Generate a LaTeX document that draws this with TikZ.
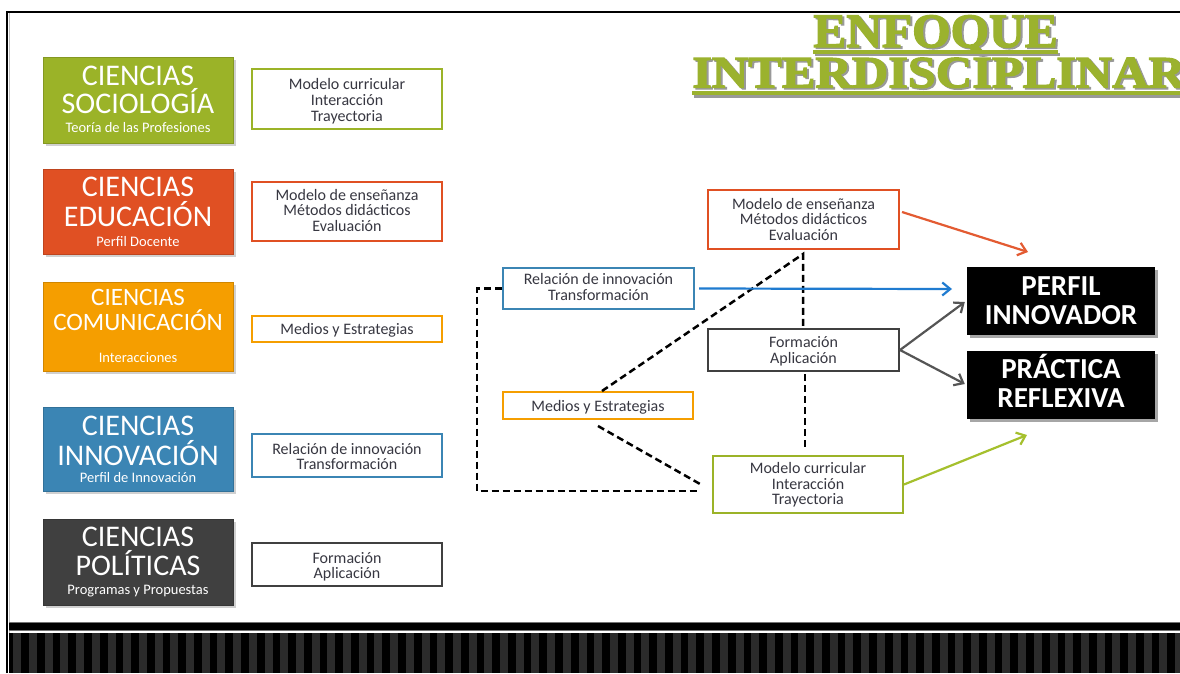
\documentclass[tikz,border=0pt]{standalone}
\usepackage{fontspec}
\setmainfont{Carlito}
\newfontfamily\titlefont[FakeBold=2.5]{Liberation Serif Bold}
\usetikzlibrary{arrows.meta,calc}

\definecolor{cgreen}{RGB}{155,179,40}
\definecolor{cred}{RGB}{224,80,35}
\definecolor{corange}{RGB}{245,158,0}
\definecolor{cblue}{RGB}{59,133,180}
\definecolor{cdark}{RGB}{64,64,64}
\definecolor{txtgray}{RGB}{55,55,65}
\definecolor{arrred}{RGB}{227,91,50}
\definecolor{arrblue}{RGB}{31,123,208}
\definecolor{arrgreen}{RGB}{165,192,45}
\definecolor{arrgray}{RGB}{85,85,85}
\definecolor{stripe}{RGB}{43,43,43}
\definecolor{titlegreen}{RGB}{155,178,46}

\tikzset{
  cbox/.style={minimum width=190pt, inner sep=0pt, draw=#1!85!black, line width=0.6pt, fill=#1},
  cshadow/.style={fill=black!30, opacity=0.6},
  ctitle/.style={anchor=base, text=white, inner sep=0pt, font=\fontsize{30}{30}\selectfont},
  csmall/.style={anchor=base, text=white, inner sep=0pt, font=\fontsize{14.5}{14.5}\selectfont},
  obox/.style={draw=#1, line width=2pt, fill=white, inner sep=0pt},
  otext/.style={anchor=base, text=txtgray, inner sep=0pt, font=\fontsize{16}{16}\selectfont},
  bbox/.style={fill=black, minimum width=188pt, minimum height=68pt, inner sep=0pt},
  btext/.style={anchor=base, text=white, inner sep=0pt, font=\bfseries\fontsize{29}{29}\selectfont},
  link/.style={draw=black, line width=2.5pt, dash pattern=on 7pt off 4pt},
  arr/.style={draw=#1, line width=2.2pt, -{Straight Barb[length=8pt,width=13pt]}},
  ttl/.style={anchor=base, inner sep=0pt, text=titlegreen},
  ttlshadow/.style={anchor=base, inner sep=0pt, text=black!40},
}

\begin{document}
\begin{tikzpicture}[x=1pt,y=-1pt]
\useasboundingbox (0,0) rectangle (1180,673);
\fill[white] (0,0) rectangle (1180,673);

% frame
\draw[black!25, line width=1pt] (9.5,673) -- (9.5,13);
\draw[line width=2pt] (7,673) -- (7,11.5) -- (1180,11.5);

% footer band
\fill[black!55] (9,621.5) rectangle (1180,631);
\fill[black] (9,622.5) rectangle (1180,630);
\fill[black] (9,633) rectangle (1180,673);
\foreach \i in {0,...,74}
  \fill[stripe] ({13.3+15.7*\i},633) rectangle ++(8,40);

% title
\node[ttlshadow] (t1s) at (937.5,48.5) {\titlefont\fontsize{48}{48}\selectfont\scalebox{1.03}[1]{ENFOQUE}};
\node[ttl] (t1) at (935.5,47) {\titlefont\fontsize{48}{48}\selectfont\scalebox{1.03}[1]{ENFOQUE}};
\fill[black!40] (815,53) rectangle (1060,56);
\fill[titlegreen] (813,50) rectangle (1058,53.5);
\node[ttlshadow, anchor=base west] (t2s) at (694,89) {\titlefont\fontsize{45}{45}\selectfont\scalebox{1.12}[1]{INTERDISCIPLINAR}};
\node[ttl, anchor=base west] (t2) at (692,87.5) {\titlefont\fontsize{45}{45}\selectfont\scalebox{1.12}[1]{INTERDISCIPLINAR}};
\fill[black!40] (694,94.5) rectangle (1180,97.5);
\fill[titlegreen] (692,91) rectangle (1180,95);

% coloured boxes (left column)
\fill[cshadow] (46,60) rectangle (236,146);
\node[cbox=cgreen, minimum height=86pt] (soc) at (138,100) {};
\node[ctitle] (soc1) at (138,85) {CIENCIAS};
\node[ctitle] (soc2) at (138,113.3) {SOCIOLOGÍA};
\node[csmall] (soc3) at (138,132) {Teoría de las Profesiones};

\fill[cshadow] (46,172) rectangle (236,257);
\node[cbox=cred, minimum height=85pt] (edu) at (138,211.5) {};
\node[ctitle] (edu1) at (138,196.7) {CIENCIAS};
\node[ctitle] (edu2) at (138,226.7) {EDUCACIÓN};
\node[csmall] (edu3) at (138,246) {Perfil Docente};

\fill[cshadow] (46,285) rectangle (236,374);
\node[cbox=corange, minimum height=89pt] (com) at (138,326.5) {};
\node[ctitle, font=\fontsize{25}{25}\selectfont] (com1) at (138,305) {CIENCIAS};
\node[ctitle, font=\fontsize{25}{25}\selectfont] (com2) at (138,330) {COMUNICACIÓN};
\node[csmall] (com3) at (138,362.7) {Interacciones};

\fill[cshadow] (46,410) rectangle (236,494);
\node[cbox=cblue, minimum height=84pt] (inn) at (138,449) {};
\node[ctitle] (inn1) at (138,435) {CIENCIAS};
\node[ctitle] (inn2) at (138,465) {INNOVACIÓN};
\node[csmall] (inn3) at (138,482.7) {Perfil de Innovación};

\fill[cshadow] (46,522) rectangle (236,608);
\node[cbox=cdark, minimum height=86pt] (pol) at (138,562) {};
\node[ctitle] (pol1) at (138,546.7) {CIENCIAS};
\node[ctitle] (pol2) at (138,575) {POLÍTICAS};
\node[csmall] (pol3) at (138,594) {Programas y Propuestas};

% outlined boxes (left column)
\node[obox=cgreen, minimum width=190pt, minimum height=60pt] (socO) at (347,99) {};
\node[otext] (socO1) at (347,89) {Modelo curricular};
\node[otext] (socO2) at (347,105) {Interacción};
\node[otext] (socO3) at (347,121) {Trayectoria};

\node[obox=cred, minimum width=190pt, minimum height=59pt] (eduO) at (347,211.5) {};
\node[otext] (eduO1) at (347,200) {Modelo de enseñanza};
\node[otext] (eduO2) at (347,215.7) {Métodos didácticos};
\node[otext] (eduO3) at (347,231.7) {Evaluación};

\node[obox=corange, minimum width=190pt, minimum height=26pt] (comO) at (347,329) {};
\node[otext] (comO1) at (347,334) {Medios y Estrategias};

\node[obox=cblue, minimum width=190pt, minimum height=43pt] (innO) at (347,455.5) {};
\node[otext] (innO1) at (347,454) {Relación de innovación};
\node[otext] (innO2) at (347,469) {Transformación};

\node[obox=cdark, minimum width=190pt, minimum height=43pt] (polO) at (347,564.5) {};
\node[otext] (polO1) at (347,563) {Formación};
\node[otext] (polO2) at (347,578) {Aplicación};

% right-hand network
\node[obox=cred, minimum width=191pt, minimum height=59pt] (eduR) at (803.5,219.5) {};
\node[otext] (eduR1) at (803.5,209) {Modelo de enseñanza};
\node[otext] (eduR2) at (803.5,224.5) {Métodos didácticos};
\node[otext] (eduR3) at (803.5,240) {Evaluación};

\node[obox=cblue, minimum width=191pt, minimum height=41pt] (innR) at (598.5,288.5) {};
\node[otext] (innR1) at (598.5,284) {Relación de innovación};
\node[otext] (innR2) at (598.5,300) {Transformación};

\node[obox=cdark, minimum width=191pt, minimum height=42pt] (polR) at (803.5,350) {};
\node[otext] (polR1) at (803.5,347) {Formación};
\node[otext] (polR2) at (803.5,363) {Aplicación};

\node[obox=corange, minimum width=190pt, minimum height=27pt] (comR) at (598,405.5) {};
\node[otext] (comR1) at (598,411) {Medios y Estrategias};

\node[obox=cgreen, minimum width=190pt, minimum height=57pt] (socR) at (808,484.5) {};
\node[otext] (socR1) at (808,473) {Modelo curricular};
\node[otext] (socR2) at (808,489) {Interacción};
\node[otext] (socR3) at (808,504.5) {Trayectoria};

% result boxes
\fill[black!35] (970,270) rectangle (1158,338);
\node[bbox] (perfil) at (1061,301) {};
\node[btext] (perfil1) at (1061,295) {PERFIL};
\node[btext] (perfil2) at (1061,324) {INNOVADOR};
\fill[black!35] (970,354) rectangle (1158,422);
\node[bbox] (practica) at (1061,385) {};
\node[btext] (practica1) at (1061,378) {PRÁCTICA};
\node[btext] (practica2) at (1061,407) {REFLEXIVA};

% dashed links
\coordinate (lcorner1) at (477,288.5);
\coordinate (lcorner2) at (477,491);
\coordinate (lend) at (698,491);
\draw[link] (innR.west) -- (lcorner1) -- (lcorner2) -- (lend);
\coordinate (apex) at (803,254);
\draw[link] ($(comR.north)+(4,0)$) -- (apex) -- (apex |- polR.north);
\coordinate (vend) at (805,448);
\draw[link] ($(polR.south)+(1.5,2)$) -- (vend);
\coordinate (dend) at (700,484);
\draw[link] ($(comR.south)+(0,6)$) -- (dend);

% arrows
\coordinate (redtip) at (1028,252);
\draw[arr=arrred] ($(eduR.east)+(2,-7.5)$) -- (redtip);
\coordinate (bluetip) at (952,289);
\draw[arr=arrblue] ($(innR.east)+(4,0)$) -- (bluetip);
\draw[arr=arrgray] (polR.east) -- ($(perfil.west)+(-2,1)$);
\draw[arr=arrgray] (polR.east) -- ($(practica.west)+(-2,-1)$);
\coordinate (greentip) at (1027,435);
\draw[arr=arrgreen] (socR.east) -- (greentip);
\end{tikzpicture}
\end{document}
